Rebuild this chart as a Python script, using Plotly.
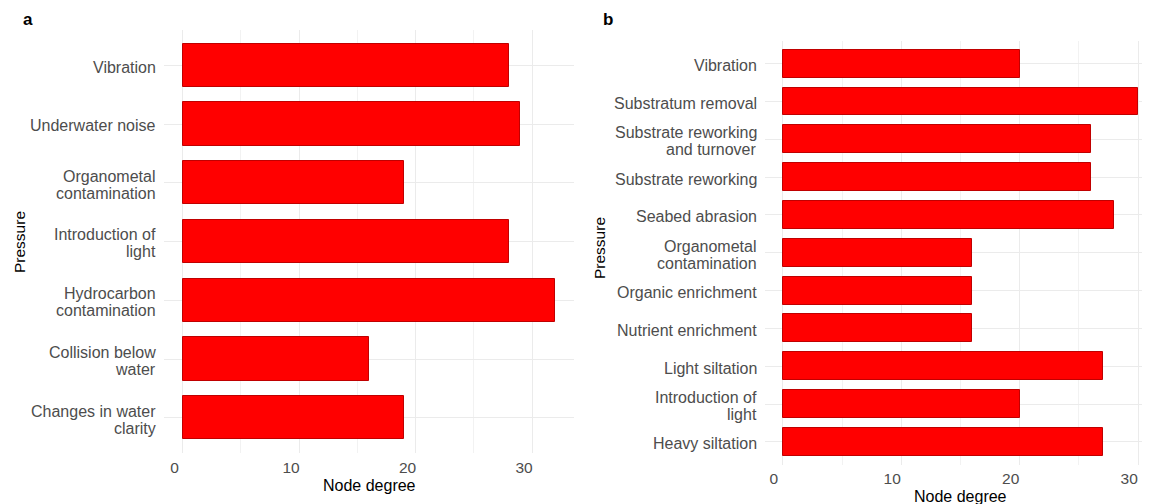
import plotly.graph_objects as go

# Panel a data (top to bottom)
cats_a = ["Vibration", "Underwater noise", "Organometal<br>contamination", "Introduction of<br>light",
          "Hydrocarbon<br>contamination", "Collision below<br>water", "Changes in water<br>clarity"]
vals_a = [28, 29, 19, 28, 32, 16, 19]

# Panel b data (top to bottom)
cats_b = ["Vibration", "Substratum removal", "Substrate reworking<br>and turnover", "Substrate reworking",
          "Seabed abrasion", "Organometal<br>contamination", "Organic enrichment", "Nutrient enrichment",
          "Light siltation", "Introduction of<br>light", "Heavy siltation"]
vals_b = [20, 30, 26, 26, 28, 16, 16, 16, 27, 20, 27]

x_ticks = [0, 10, 20, 30]

# page body has an 8px margin; work in screen pixels and convert
OFF = 8
W, H = 1150 - OFF, 504 - OFF
FONT = "Liberation Sans, Arial, sans-serif"
TICKC = "#4d4d4d"
GRID = "#ebebeb"
LBL = 16

fig = go.Figure()
fig.add_trace(go.Bar(x=vals_a, y=cats_a, orientation="h", width=0.74,
                     marker=dict(color="#ff0000", line=dict(color="#c00000", width=1)),
                     xaxis="x", yaxis="y", showlegend=False))
fig.add_trace(go.Bar(x=vals_b, y=cats_b, orientation="h", width=0.74,
                     marker=dict(color="#ff0000", line=dict(color="#c00000", width=1)),
                     xaxis="x2", yaxis="y2", showlegend=False))


def px_x(p):
    return min(1.0, (p - OFF) / W)


def px_y(p):
    return 1 - (p - OFF) / H


def common_x(shift):
    return dict(tickvals=x_ticks, showgrid=True, gridcolor=GRID, gridwidth=1,
                minor=dict(dtick=5, tick0=0, showgrid=True, gridcolor="#f2f2f2", gridwidth=0.6),
                zeroline=False, showline=False, ticks="", automargin=False,
                ticklabelstandoff=3, ticklabelshift=shift,
                tickfont=dict(family=FONT, size=15.5, color=TICKC))


common_y = dict(type="category", showgrid=True, gridcolor=GRID, gridwidth=1,
                zeroline=False, showline=False, ticks="", automargin=False,
                showticklabels=False)

A_LEFT, A_RIGHT, A_TOP, A_BOT = 164, 574, 30, 453
B_LEFT, B_TOP, B_BOT = 765, 41, 464.5

fig.update_layout(
    width=W, height=H, margin=dict(l=0, r=0, t=0, b=0),
    template="none", paper_bgcolor="white", plot_bgcolor="white",
    bargap=0,
    xaxis=dict(domain=[px_x(A_LEFT), px_x(A_RIGHT)], range=[-1.6, 33.6], anchor="y", **common_x(-8)),
    yaxis=dict(domain=[px_y(A_BOT), px_y(A_TOP)], range=[6.6, -0.6], anchor="x",
               categoryorder="array", categoryarray=cats_a, **common_y),
    xaxis2=dict(domain=[px_x(B_LEFT), 1.0], range=[-1.5, 31.0], anchor="y2", **common_x(-9)),
    yaxis2=dict(domain=[px_y(B_BOT), px_y(B_TOP)], range=[10.6, -0.6], anchor="x2",
                categoryorder="array", categoryarray=cats_b, **common_y),
)

ann = [
    dict(text="<b>a</b>", x=px_x(28), y=px_y(19), xanchor="center", yanchor="middle",
         font=dict(family=FONT, size=17, color="black")),
    dict(text="<b>b</b>", x=px_x(608), y=px_y(19), xanchor="center", yanchor="middle",
         font=dict(family=FONT, size=17, color="black")),
    dict(text="Node degree", x=px_x(369), y=px_y(485), xanchor="center", yanchor="middle",
         font=dict(family=FONT, size=16, color="black")),
    dict(text="Node degree", x=px_x(960), y=px_y(496), xanchor="center", yanchor="middle",
         font=dict(family=FONT, size=16, color="black")),
    dict(text="Pressure", x=px_x(19), y=px_y(242), xanchor="center", yanchor="middle", textangle=-90,
         font=dict(family=FONT, size=15.5, color="black")),
    dict(text="Pressure", x=px_x(599), y=px_y(248), xanchor="center", yanchor="middle", textangle=-90,
         font=dict(family=FONT, size=15.5, color="black")),
]
for a in ann:
    a.update(xref="paper", yref="paper", showarrow=False)

# Category labels (drawn as text lines with tighter line spacing, like the reference)
LINE = 17


def add_cat_labels(cats, yref, left_px):
    for i, c in enumerate(cats):
        lines = c.split("<br>")
        n = len(lines)
        for j, ln in enumerate(lines):
            ann.append(dict(text=ln, xref="paper", yref=yref, x=px_x(left_px), y=i,
                            xanchor="right", yanchor="middle", xshift=-6,
                            yshift=((n - 1) / 2 - j) * LINE - 2, showarrow=False,
                            font=dict(family=FONT, size=LBL, color=TICKC)))


add_cat_labels(cats_a, "y", A_LEFT)
add_cat_labels(cats_b, "y2", B_LEFT)

fig.update_layout(annotations=ann)

fig.write_html("out.html")
